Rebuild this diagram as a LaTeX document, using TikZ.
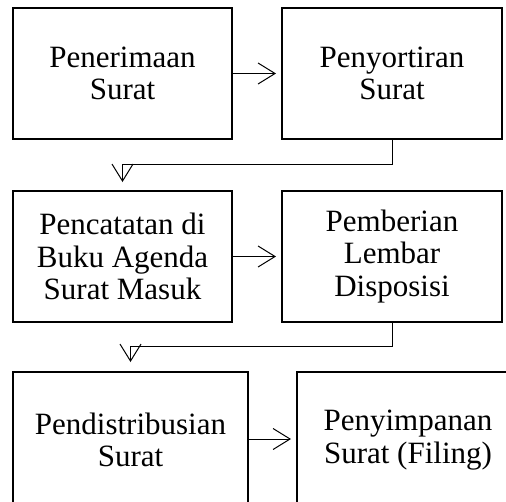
\documentclass[tikz,border=0pt]{standalone}
\usepackage{fontspec}
\setmainfont{Liberation Serif}
\usetikzlibrary{arrows.meta}

\tikzset{
  stepbox/.style={draw, line width=2pt, inner sep=0pt, align=center,
    font=\fontsize{31pt}{32.5pt}\selectfont},
  conn/.style={line width=1pt, -{Straight Barb[length=17pt,width=21pt,line width=1pt]}},
}

\begin{document}
\begin{tikzpicture}[x=1pt,y=1pt]
  \clip (0,0) rectangle (506,-501);
  \fill[white] (0,0) rectangle (506,-501);

  % first row
  \node[stepbox, minimum width=219pt, minimum height=131pt] (A) at (122.5,-73.5)
    {Penerimaan\\Surat};
  \node[stepbox, minimum width=220pt, minimum height=131pt] (B) at (392,-73.5)
    {Penyortiran\\Surat};

  % second row
  \node[stepbox, minimum width=219pt, minimum height=131pt] (C) at (122.5,-256.5)
    {Pencatatan di\\Buku Agenda\\Surat Masuk};
  \node[stepbox, minimum width=220pt, minimum height=131pt] (D) at (392,-256.5)
    {Pemberian\\Lembar\\Disposisi};

  % third row (runs past the lower and right edges)
  \node[stepbox, minimum width=235pt, minimum height=136pt] (E) at (130.5,-440)
    {Pendistribusian\\Surat};
  \node[stepbox, minimum width=222pt, minimum height=136pt] (F) at (408,-440)
    {Penyimpanan\\Surat (Filing)};

  % connectors
  \draw[conn, shorten >=5pt] (A.east) -- (B.west);
  \draw[conn] (B.south) -- ++(0,-24) -| ([yshift=8pt]C.north);
  \draw[conn, shorten >=5pt] (C.east) -- (D.west);
  \draw[conn] (D.south) -- ++(0,-23) -| ([yshift=9pt]E.north);
  \draw[conn, shorten >=5pt] (E.east |- 0,-439) -- (F.west |- 0,-439);
\end{tikzpicture}
\end{document}
